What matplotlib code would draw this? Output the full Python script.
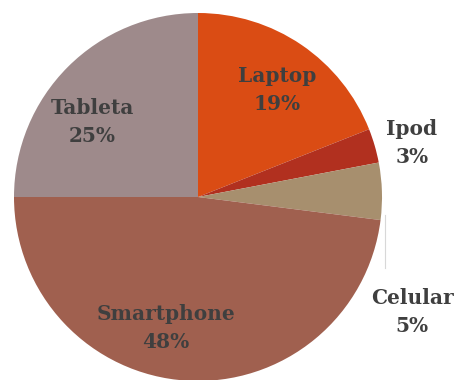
import matplotlib
matplotlib.use("Agg")
import matplotlib.pyplot as plt

# Device share
categories = ["Laptop", "Ipod", "Celular", "Smartphone", "Tableta"]
shares = [19, 3, 5, 48, 25]
colors = ["#DA4C14", "#B1301F", "#A78F6E", "#A0604F", "#9E8A8B"]

fig = plt.figure(figsize=(4.6, 3.8), dpi=100)
ax = fig.add_axes([0, 0, 1, 1])

ax.pie(shares, colors=colors, startangle=90, counterclock=False,
       center=(198, 183), radius=184, frame=True,
       wedgeprops=dict(linewidth=0))
ax.set_xlim(0, 460)
ax.set_ylim(0, 380)
ax.set_aspect("equal")
ax.axis("off")

# label anchor points (pixel layout, y from bottom)
label_pos = {
    "Laptop": (277, 290),
    "Ipod": (412, 237),
    "Celular": (412, 68),
    "Smartphone": (166, 52),
    "Tableta": (92, 258),
}
font = dict(family="DejaVu Serif", fontweight="bold", fontsize=14.5,
            color="#3F3F3F", ha="center", va="center", linespacing=1.45)
for name, val in zip(categories, shares):
    x, y = label_pos[name]
    ax.text(x, y, f"{name}\n{val}%", **font)

# faint leader line toward the Celular label
ax.plot([385, 385], [165, 112], color="#D8D8D8", linewidth=0.8)

fig.savefig("out.png", dpi=100)
